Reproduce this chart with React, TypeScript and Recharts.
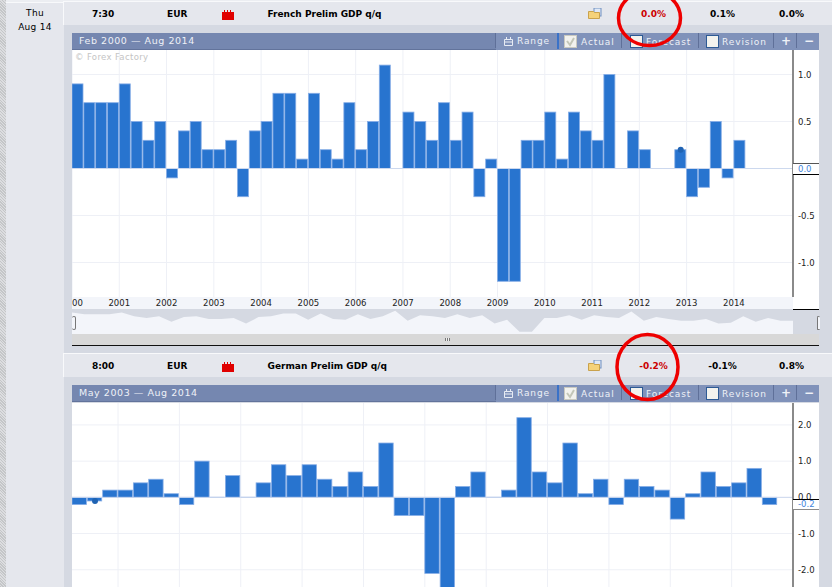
import React from "react";
import { ComposedChart, AreaChart, Area, Bar, XAxis, YAxis, CartesianGrid, ReferenceDot, ReferenceLine } from "recharts";

const frenchValues = [0.9,0.7,0.7,0.7,0.9,0.5,0.3,0.5,-0.1,0.4,0.5,0.2,0.2,0.3,-0.3,0.4,0.5,0.8,0.8,0.1,0.8,0.2,0.1,0.7,0.2,0.5,1.1,0,0.6,0.5,0.3,0.7,0.3,0.6,-0.3,0.1,-1.2,-1.2,0.3,0.3,0.6,0.1,0.6,0.4,0.3,1.0,0,0.4,0.2,0,0,0.2,-0.3,-0.2,0.5,-0.1,0.3,0,0];
const germanValues = [-0.2,-0.1,0.2,0.2,0.4,0.5,0.1,-0.2,1.0,0,0.6,0,0.4,0.9,0.6,0.9,0.5,0.3,0.7,0.3,1.5,-0.5,-0.5,-2.1,-3.5,0.3,0.7,0,0.2,2.2,0.7,0.4,1.5,0.1,0.5,-0.2,0.5,0.3,0.2,-0.6,0.1,0.7,0.3,0.4,0.8,-0.2];
const frenchYears = [2000,2001,2002,2003,2004,2005,2006,2007,2008,2009,2010,2011,2012,2013,2014];
const germanYears = [2004,2005,2006,2007,2008,2009,2010,2011,2012,2013,2014];
const frenchTicks = [1,0.5,0,-0.5,-1];
const germanTicks = [2,1,0,-1,-2,-3];

const frenchData = frenchValues.map((v, i) => ({ t: 2000 + i * 0.25 + 0.125, v }));
const germanData = germanValues.map((v, i) => ({ t: 2003.25 + i * 0.25 + 0.125, v }));

const FONT = '"DejaVu Sans", sans-serif';
const PANEL = "#d5d9e2";
const ROW = "#e5e7ed";
const BAR = "#2874cf";

const BarShape = (p: any) => {
  const y = Math.min(p.y, p.y + p.height);
  const h = Math.abs(p.height);
  if (h < 0.5) return <rect x={p.x} y={y - 0.5} width={p.width} height={1} fill="#86ade6" />;
  return <rect x={p.x} y={y} width={p.width} height={h} fill={BAR} stroke="#86ade6" strokeWidth={0.8} />;
};

const box = (left: number, top: number, width: number, height: number, background: string, extra: any = {}) => (
  <div style={{ position: "absolute", left, top, width, height, background, ...extra }} />
);

const Txt = ({ x, y, w, c = "#000", b = false, s = 9, ls = 0, align = "left", children }: any) => (
  <div style={{ position: "absolute", left: x, top: y - 8, width: w, height: 16, lineHeight: "16px", color: c, fontWeight: b ? 700 : 400, fontSize: s, letterSpacing: ls, textAlign: align, fontFamily: FONT, whiteSpace: "nowrap" }}>{children}</div>
);

const Impact = ({ x, y }: any) => (
  <svg style={{ position: "absolute", left: x, top: y }} width={12} height={10}>
    <path d="M0 2h2V0h1v2h2V0h1v2h2V0h1v2h3v8H0z" fill="#e00000" />
  </svg>
);

const Folder = ({ x, y }: any) => (
  <svg style={{ position: "absolute", left: x, top: y }} width={14} height={11}>
    <rect x={6} y={0} width={7} height={8} fill="#dfe8f6" stroke="#6f8fc0" />
    <path d="M0.5 3.5h5l1 1h5v6h-11z" fill="#f5d27a" stroke="#c9a24d" />
  </svg>
);

const Row = ({ y, time, name, vals }: any) => (
  <>
    {box(63, y - 1, 769, 1, "#f8f9fb")}
    {box(63, y, 1, 23, "#f8f9fb")}
    {box(64, y, 768, 23, ROW)}
    <Txt x={92} y={y + 12} b>{time}</Txt>
    <Txt x={167} y={y + 12} b>EUR</Txt>
    <Impact x={222} y={y + 8} />
    <Txt x={267.5} y={y + 12} b>{name}</Txt>
    <Folder x={588} y={y + 6} />
    <Txt x={596} y={y + 12} w={115} b c="#cc0000" align="center">{vals[0]}</Txt>
    <Txt x={665} y={y + 12} w={115} b align="center">{vals[1]}</Txt>
    <Txt x={734} y={y + 12} w={115} b align="center">{vals[2]}</Txt>
  </>
);

const Check = ({ x, y, checked }: any) => (
  <svg style={{ position: "absolute", left: x, top: y }} width={14} height={14}>
    <rect x={0.5} y={0.5} width={12} height={12} fill="#f2f2ee" stroke={checked ? "#c9c9c0" : "#2d5a94"} />
    {checked && <path d="M3 6l3 4 4-7" fill="none" stroke="#c3c6b8" strokeWidth={2} />}
  </svg>
);

const TitleBar = ({ y, range }: any) => (
  <>
    {box(72, y, 747, 17, "#7587b0", { borderBottom: "1px solid #62739b", boxSizing: "border-box" })}
    {box(496, y, 323, 17, "#8092ba")}
    {box(495, y, 1, 15, "#5f7099")}
    {box(557, y, 2, 16, "#3a72c8")}
    {box(621, y, 1, 15, "#5f7099")}
    {box(698, y, 1, 15, "#5f7099")}
    {box(773, y, 1, 15, "#5f7099")}
    {box(796, y, 1, 15, "#5f7099")}
    <Txt x={79} y={y + 8} c="#eef1f7" s={9.5} ls={0.55}>{range}</Txt>
    <svg style={{ position: "absolute", left: 504, top: y + 4 }} width={10} height={9}>
      <path d="M0.5 2.5h8v6h-8zM2.5 0v3M6.5 0v3M0.5 5h8" fill="none" stroke="#e8ecf4" />
    </svg>
    <Txt x={517} y={y + 8} c="#eef1f7" s={9} ls={0.9}>Range</Txt>
    <Check x={564} y={y + 2} checked />
    <Txt x={581} y={y + 9} c="#eef1f7" s={9} ls={0.9}>Actual</Txt>
    <Check x={630} y={y + 2} />
    <Txt x={646} y={y + 9} c="#eef1f7" s={9} ls={0.9}>Forecast</Txt>
    <Check x={706} y={y + 2} />
    <Txt x={722} y={y + 9} c="#eef1f7" s={9} ls={0.9}>Revision</Txt>
    <Txt x={781} y={y + 8} w={10} c="#eef1f7" b s={12} align="center">+</Txt>
    <Txt x={804} y={y + 8} w={10} c="#eef1f7" b s={12} align="center">−</Txt>
  </>
);

const BarPanel = ({ top, height, data, years, ticks, domainX, domainY, barSize, dot }: any) => (
  <div style={{ position: "absolute", left: 72, top }}>
    <ComposedChart width={747} height={height} data={data} margin={{ top: 0, right: 0, bottom: 0, left: 0 }}>
      <CartesianGrid stroke="#eef0f6" strokeWidth={1} verticalValues={years} horizontalValues={ticks} />
      <XAxis dataKey="t" type="number" domain={domainX} ticks={years} interval={0} allowDataOverflow height={12}
        axisLine={false} tickLine={false} tickSize={0} tickMargin={3}
        tick={{ fontSize: 8.5, fontFamily: FONT, fill: "#222" }} tickFormatter={(v: number) => String(v)} />
      <YAxis orientation="right" width={26} domain={domainY} ticks={ticks} interval={0} allowDataOverflow
        axisLine={{ stroke: "#8a8a8a", strokeWidth: 2 }} tickLine={false} tickSize={0} tickMargin={5}
        tick={{ fontSize: 8.5, fontFamily: FONT, fill: "#222" }} tickFormatter={(v: number) => v.toFixed(1)} />
      <ReferenceLine y={0} stroke="#cdd9ee" strokeWidth={1} />
      <Bar dataKey="v" barSize={barSize} shape={BarShape} isAnimationActive={false} />
      <ReferenceDot x={dot[0]} y={dot[1]} r={3} fill="#1f63b3" stroke="none" ifOverflow="visible" />
    </ComposedChart>
  </div>
);

const ValueBox = ({ y, h, label, topC, bottomC }: any) => (
  <div style={{ position: "absolute", left: 793, top: y, width: 26, height: h, background: "#fff", borderTop: `1px solid ${topC}`, borderBottom: `1px solid ${bottomC}`, boxSizing: "border-box", color: "#3f86dc", fontFamily: FONT, fontSize: 8.5, lineHeight: `${h - 2}px`, paddingLeft: 5 }}>{label}</div>
);

export default function App() {
  return (
    <div style={{ position: "fixed", left: 0, top: 0, width: 832, height: 587, overflow: "hidden", background: ROW, fontFamily: FONT }}>
      {box(0, 0, 6, 587, "repeating-linear-gradient(45deg,#c4c6c8 0 1px,#dcdde0 1px 2px)")}
      {box(64, 25, 768, 562, PANEL)}
      {box(6, 0, 826, 2, "#eceef2")}
      {box(6, 2, 826, 1, "#f8f9fb")}
      <Txt x={6} y={13} w={58} s={9} align="center" ls={0.3}>Thu</Txt>
      <Txt x={6} y={27} w={58} s={9} align="center" ls={0.3}>Aug 14</Txt>
      <Row y={2} time="7:30" name="French Prelim GDP q/q" vals={["0.0%", "0.1%", "0.0%"]} />

      <TitleBar y={33} range="Feb 2000 — Aug 2014" />
      {box(72, 50, 747, 259, "#fff")}
      {box(72, 297, 721, 12, "#f3f5fa")}
      <BarPanel top={50} height={259} data={frenchData} years={frenchYears} ticks={frenchTicks}
        domainX={[2000, 2015.25]} domainY={[-1.367, 1.2606]} barSize={11} dot={[2012.875, 0.2]} />
      <Txt x={75} y={57} c="#c4c4c4" s={8.5} ls={0.35}>© Forex Factory</Txt>
      <ValueBox y={163} h={12} label="0.0" topC="#555" bottomC="#000" />
      {box(793, 309, 26, 1, "#000")}

      <div style={{ position: "absolute", left: 72, top: 309.5, width: 721, height: 25, background: "#f3f5fa" }}>
        <AreaChart width={721} height={25} data={frenchData} margin={{ top: 0, right: 0, bottom: 0, left: 0 }}>
          <XAxis dataKey="t" type="number" domain={["dataMin", "dataMax"]} hide />
          <YAxis hide domain={[-1.54, 1.17]} allowDataOverflow />
          <Area dataKey="v" type="linear" baseValue={1.17} fill={PANEL} fillOpacity={1} stroke="none" isAnimationActive={false} dot={false} />
        </AreaChart>
      </div>
      {box(793, 310, 26, 24, PANEL)}
      {box(72, 334, 747, 11, "#d8d8d8")}
      {box(72, 345, 747, 1, "#111")}
      {box(72, 316, 3, 12, "#f3f5fa", { border: "1px solid #777", borderLeft: "none", borderRadius: 2 })}
      {box(817, 316, 2, 12, "#f3f5fa", { border: "1px solid #777", borderRight: "none", borderRadius: 2 })}
      {box(445, 338, 5, 3, "repeating-linear-gradient(90deg,#777 0 1px,#eee 1px 2px)")}

      <Row y={354} time="8:00" name="German Prelim GDP q/q" vals={["-0.2%", "-0.1%", "0.8%"]} />
      <TitleBar y={385} range="May 2003 — Aug 2014" />
      {box(72, 403, 747, 184, "#fff")}
      <BarPanel top={403} height={236} data={germanData} years={germanYears} ticks={germanTicks}
        domainX={[2003.25, 2015]} domainY={[-3.58, 2.605]} barSize={14.4} dot={[2003.625, -0.1]} />
      <ValueBox y={499} h={11} label="-0.2" topC="#000" bottomC="#8a8a8a" />

      <svg style={{ position: "absolute", left: 0, top: 0 }} width={832} height={587}>
        <ellipse cx={649.5} cy={18} rx={31} ry={27.5} fill="none" stroke="#ee0000" strokeWidth={3.5} />
        <ellipse cx={647.5} cy={367} rx={30.5} ry={32.5} fill="none" stroke="#ee0000" strokeWidth={3.5} />
      </svg>
    </div>
  );
}
